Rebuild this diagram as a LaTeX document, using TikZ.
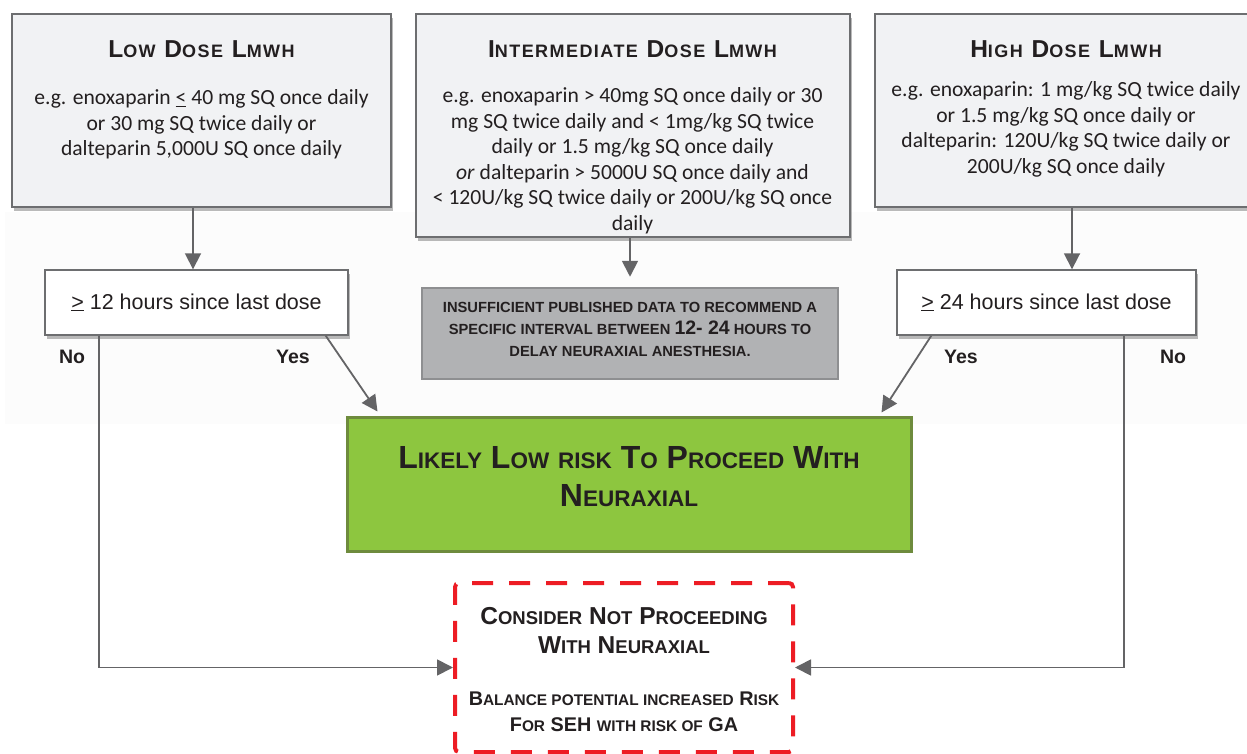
\documentclass[tikz,border=0pt]{standalone}
\usepackage{fontspec}
\setmainfont{Carlito}
\newfontfamily\arial{Liberation Sans}
\newfontfamily\arialsp[LetterSpace=8]{Liberation Sans}
\usetikzlibrary{arrows.meta,shadows,calc}
\definecolor{topfill}{HTML}{F1F2F4}
\definecolor{bordc}{HTML}{6D6E70}
\definecolor{arrc}{HTML}{646466}
\definecolor{txtc}{HTML}{231F20}
\definecolor{grayfill}{HTML}{B1B2B4}
\definecolor{graybord}{HTML}{8E8F91}
\definecolor{greenfill}{HTML}{8DC63F}
\definecolor{greenbord}{HTML}{6E8B3D}
\definecolor{redc}{HTML}{ED1C24}
\newcommand\lo[1]{{\fontsize{\losize}{\losize}\selectfont #1}}
\tikzset{
  arr/.style={draw=arrc, line width=1.8pt, -{Triangle[length=16pt,width=16pt]}},
  shad/.style={drop shadow={shadow xshift=2pt, shadow yshift=-4pt, fill=black!60, opacity=.45}},
  topbox/.style={draw=bordc, line width=1.4pt, fill=topfill, shad, inner sep=0pt},
  hrbox/.style={draw=bordc, line width=1.4pt, fill=white, shad, inner sep=0pt},
  hdr/.style={font=\arialsp\bfseries\fontsize{24.5}{24.5}\selectfont\def\losize{18}, text=txtc, inner sep=0pt},
  body/.style={font=\fontsize{21.6}{25.5}\selectfont, text=txtc, align=center, inner sep=0pt},
  lbl/.style={font=\arial\bfseries\fontsize{19.5}{20}\selectfont, text=txtc, inner sep=0pt},
}
\begin{document}
\begin{tikzpicture}[x=1pt,y=-1pt]
\useasboundingbox (0,0) rectangle (1247,754);
\fill[white] (0,0) rectangle (1247,754);
\fill[black!1.2] (5,212) rectangle (1247,424);

% top boxes
\node[topbox, minimum width=379pt, minimum height=193pt] (b1) at (201.5,110.5) {};
\node[topbox, minimum width=434pt, minimum height=223pt] (b2) at (633,125.5) {};
\node[topbox, minimum width=382pt, minimum height=193pt] (b3) at (1066,110.5) {};

\node[hdr, anchor=base] (h1) at (201.5,58) {L\lo{OW} D\lo{OSE} L\lo{MWH}};
\node[hdr, anchor=base] (h2) at (632.5,58) {I\lo{NTERMEDIATE} D\lo{OSE} L\lo{MWH}};
\node[hdr, anchor=base] (h3) at (1066,58) {H\lo{IGH} D\lo{OSE} L\lo{MWH}};

\node[body, anchor=north] (t1) at (201.5,89.5) {e.g. enoxaparin \underline{<} 40 mg SQ once daily\\ or 30 mg SQ twice daily or\\ dalteparin 5,000U SQ once daily};
\node[body, anchor=north] (t2) at (632.5,87.5) {e.g. enoxaparin > 40mg SQ once daily or 30\\ mg SQ twice daily and < 1mg/kg SQ twice\\ daily or 1.5 mg/kg SQ once daily\\ \textit{or} dalteparin > 5000U SQ once daily and\\ < 120U/kg SQ twice daily or 200U/kg SQ once\\ daily};
\node[body, anchor=north] (t3) at (1066,81.5) {e.g. enoxaparin: 1 mg/kg SQ twice daily\\ or 1.5 mg/kg SQ once daily or\\ dalteparin: 120U/kg SQ twice daily or\\ 200U/kg SQ once daily};

% hour boxes
\node[hrbox, minimum width=303pt, minimum height=65pt, font=\arial\fontsize{21.5}{22}\selectfont, text=txtc] (b12) at (196.5,302.5) {\underline{>} 12 hours since last dose};
\node[hrbox, minimum width=299pt, minimum height=65pt, font=\arial\fontsize{21.5}{22}\selectfont, text=txtc] (b24) at (1046.5,302.5) {\underline{>} 24 hours since last dose};

% gray box
\node[draw=graybord, line width=2.5pt, fill=grayfill, minimum width=416pt, minimum height=91pt, inner sep=0pt] (gb) at (630,333.5) {};
\node[font=\arial\bfseries\fontsize{14.7}{22}\selectfont, text=txtc, align=center, inner sep=0pt, anchor=north] (gt) at (630,302) {INSUFFICIENT PUBLISHED DATA TO RECOMMEND A\\ SPECIFIC INTERVAL BETWEEN {\fontsize{19.5}{22}\selectfont 12- 24} HOURS TO\\ DELAY NEURAXIAL ANESTHESIA.};

% green box
\node[draw=greenbord, line width=3pt, fill=greenfill, minimum width=564pt, minimum height=134pt, inner sep=0pt] (gr) at (629,484) {};
\node[font=\arial\bfseries\fontsize{32}{38}\selectfont\def\losize{22.5}, text=txtc, align=center, inner sep=0pt, anchor=north] (grt) at (629,446) {L\lo{IKELY} L\lo{OW} \lo{RISK} T\lo{O} P\lo{ROCEED} W\lo{ITH}\\ N\lo{EURAXIAL}};

% red box
\node[draw=redc, line width=4pt, dash pattern=on 21pt off 16pt, rounded corners=4pt, minimum width=338pt, minimum height=169pt, inner sep=0pt] (rd) at (624,667.5) {};
\node[font=\arial\bfseries\fontsize{24.5}{29}\selectfont\def\losize{18.5}, text=txtc, align=center, inner sep=0pt, anchor=north] (rt1) at (624,607) {C\lo{ONSIDER} N\lo{OT} P\lo{ROCEEDING}\\ W\lo{ITH} N\lo{EURAXIAL}};
\node[font=\arial\bfseries\fontsize{19.8}{26}\selectfont\def\losize{15.4}, text=txtc, align=center, inner sep=0pt, anchor=north] (rt2) at (624,692) {B\lo{ALANCE POTENTIAL INCREASED} R\lo{ISK}\\ F\lo{OR} SEH \lo{WITH RISK OF} GA};

% labels
\node[lbl, anchor=base] (no1) at (72,363) {No};
\node[lbl, anchor=base] (yes1) at (293,363) {Yes};
\node[lbl, anchor=base] (yes2) at (961,363) {Yes};
\node[lbl, anchor=base] (no2) at (1173,363) {No};

% connectors
\coordinate (x1) at (193,0);
\coordinate (x3) at (1072,0);
\coordinate (xl) at (99,0);
\coordinate (xr) at (1124,0);
\draw[arr] (b1.south -| x1) -- (b12.north -| x1);
\draw[arr, shorten >=10pt] (b2.south -| gb.north) -- (gb.north);
\draw[arr] (b3.south -| x3) -- (b24.north -| x3);
\draw[arr] ($(b12.south east)+(-23,0)$) -- ($(gr.north west)+(32,-4)$);
\draw[arr] ($(b24.south west)+(35,0)$) -- ($(gr.north east)+(-31,-3)$);
\draw[arr] (b12.south -| xl) |- (rd.west);
\draw[arr] (b24.south -| xr) |- (rd.east);
\end{tikzpicture}
\end{document}
